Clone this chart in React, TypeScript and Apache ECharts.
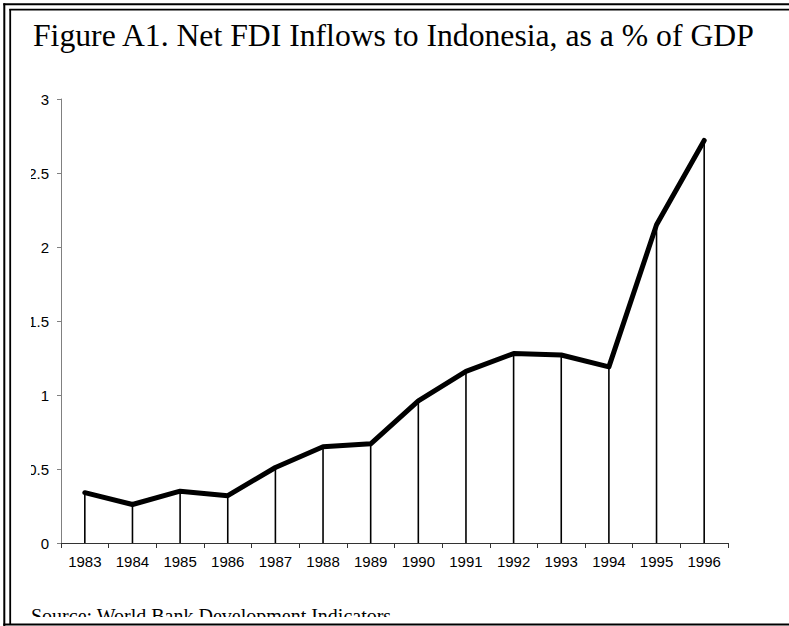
import React, { useEffect, useRef } from "react";
import * as echarts from "echarts";

const years = ["1983", "1984", "1985", "1986", "1987", "1988", "1989", "1990", "1991", "1992", "1993", "1994", "1995", "1996"];
const fdiPctGdp = [0.34, 0.26, 0.35, 0.32, 0.51, 0.65, 0.67, 0.96, 1.16, 1.28, 1.27, 1.19, 2.15, 2.72];
const yMin = 0;
const yMax = 3;
const yStep = 0.5;
const titleText = "Figure A1. Net FDI Inflows to Indonesia, as a % of GDP";
const sourceText = "Source: World Bank Development Indicators";

export default function App() {
  const ref = useRef<HTMLDivElement>(null);
  useEffect(() => {
    document.body.style.margin = "0";
    const chart = echarts.init(ref.current!, null, { renderer: "svg" });
    const serif = "'Liberation Serif', 'Times New Roman', serif";
    const sans = "'Liberation Sans', Arial, sans-serif";
    chart.setOption({
      animation: false,
      backgroundColor: "#ffffff",
      grid: { left: 61, right: 61, top: 99, bottom: 83, containLabel: false },
      xAxis: {
        type: "category",
        data: years,
        boundaryGap: true,
        axisLine: { lineStyle: { color: "#333333", width: 1 } },
        axisTick: { show: true, length: 5, inside: false, lineStyle: { color: "#333333" } },
        axisLabel: { color: "#000000", fontFamily: sans, fontSize: 15, margin: 11 },
        splitLine: { show: false },
      },
      yAxis: {
        type: "value",
        min: yMin,
        max: yMax,
        interval: yStep,
        axisLine: { show: true, lineStyle: { color: "#808080", width: 1 } },
        axisTick: { show: true, length: 4, lineStyle: { color: "#808080" } },
        axisLabel: { color: "#000000", fontFamily: sans, fontSize: 15, margin: 12 },
        splitLine: { show: false },
      },
      series: [
        {
          type: "bar",
          data: fdiPctGdp,
          barWidth: 1.6,
          itemStyle: { color: "#000000" },
          z: 2,
        },
        {
          type: "line",
          data: fdiPctGdp,
          symbol: "none",
          lineStyle: { color: "#000000", width: 5, cap: "round", join: "round" },
          z: 3,
        },
      ],
      graphic: [
        {
          type: "text",
          left: 33,
          top: 19,
          z: 50,
          style: { text: titleText, font: `31.7px ${serif}`, fill: "#000000" },
        },
        {
          type: "text",
          left: 31,
          top: 606,
          z: 50,
          style: { text: sourceText, font: `20px ${serif}`, fill: "#000000" },
        },
        {
          type: "rect",
          z: 60,
          shape: { x: 12, y: 85, width: 19, height: 470 },
          style: { fill: "#ffffff" },
        },
        {
          type: "rect",
          z: 60,
          shape: { x: 12, y: 617, width: 777, height: 9 },
          style: { fill: "#ffffff" },
        },
        { type: "line", z: 70, shape: { x1: 4.3, y1: 3.3, x2: 4.3, y2: 626 }, style: { stroke: "#000", lineWidth: 2 } },
        { type: "line", z: 70, shape: { x1: 3.3, y1: 4.2, x2: 789, y2: 4.2 }, style: { stroke: "#000", lineWidth: 2 } },
        { type: "line", z: 70, shape: { x1: 10.2, y1: 9, x2: 10.2, y2: 624 }, style: { stroke: "#000", lineWidth: 1.8 } },
        { type: "line", z: 70, shape: { x1: 9.3, y1: 9.7, x2: 789, y2: 9.7 }, style: { stroke: "#000", lineWidth: 1.8 } },
        { type: "line", z: 70, shape: { x1: 3.3, y1: 624.5, x2: 789, y2: 624.5 }, style: { stroke: "#000", lineWidth: 2 } },
      ],
    });
    return () => chart.dispose();
  }, []);
  return <div ref={ref} style={{ position: "fixed", left: 0, top: 0, width: 789, height: 626 }} />;
}
